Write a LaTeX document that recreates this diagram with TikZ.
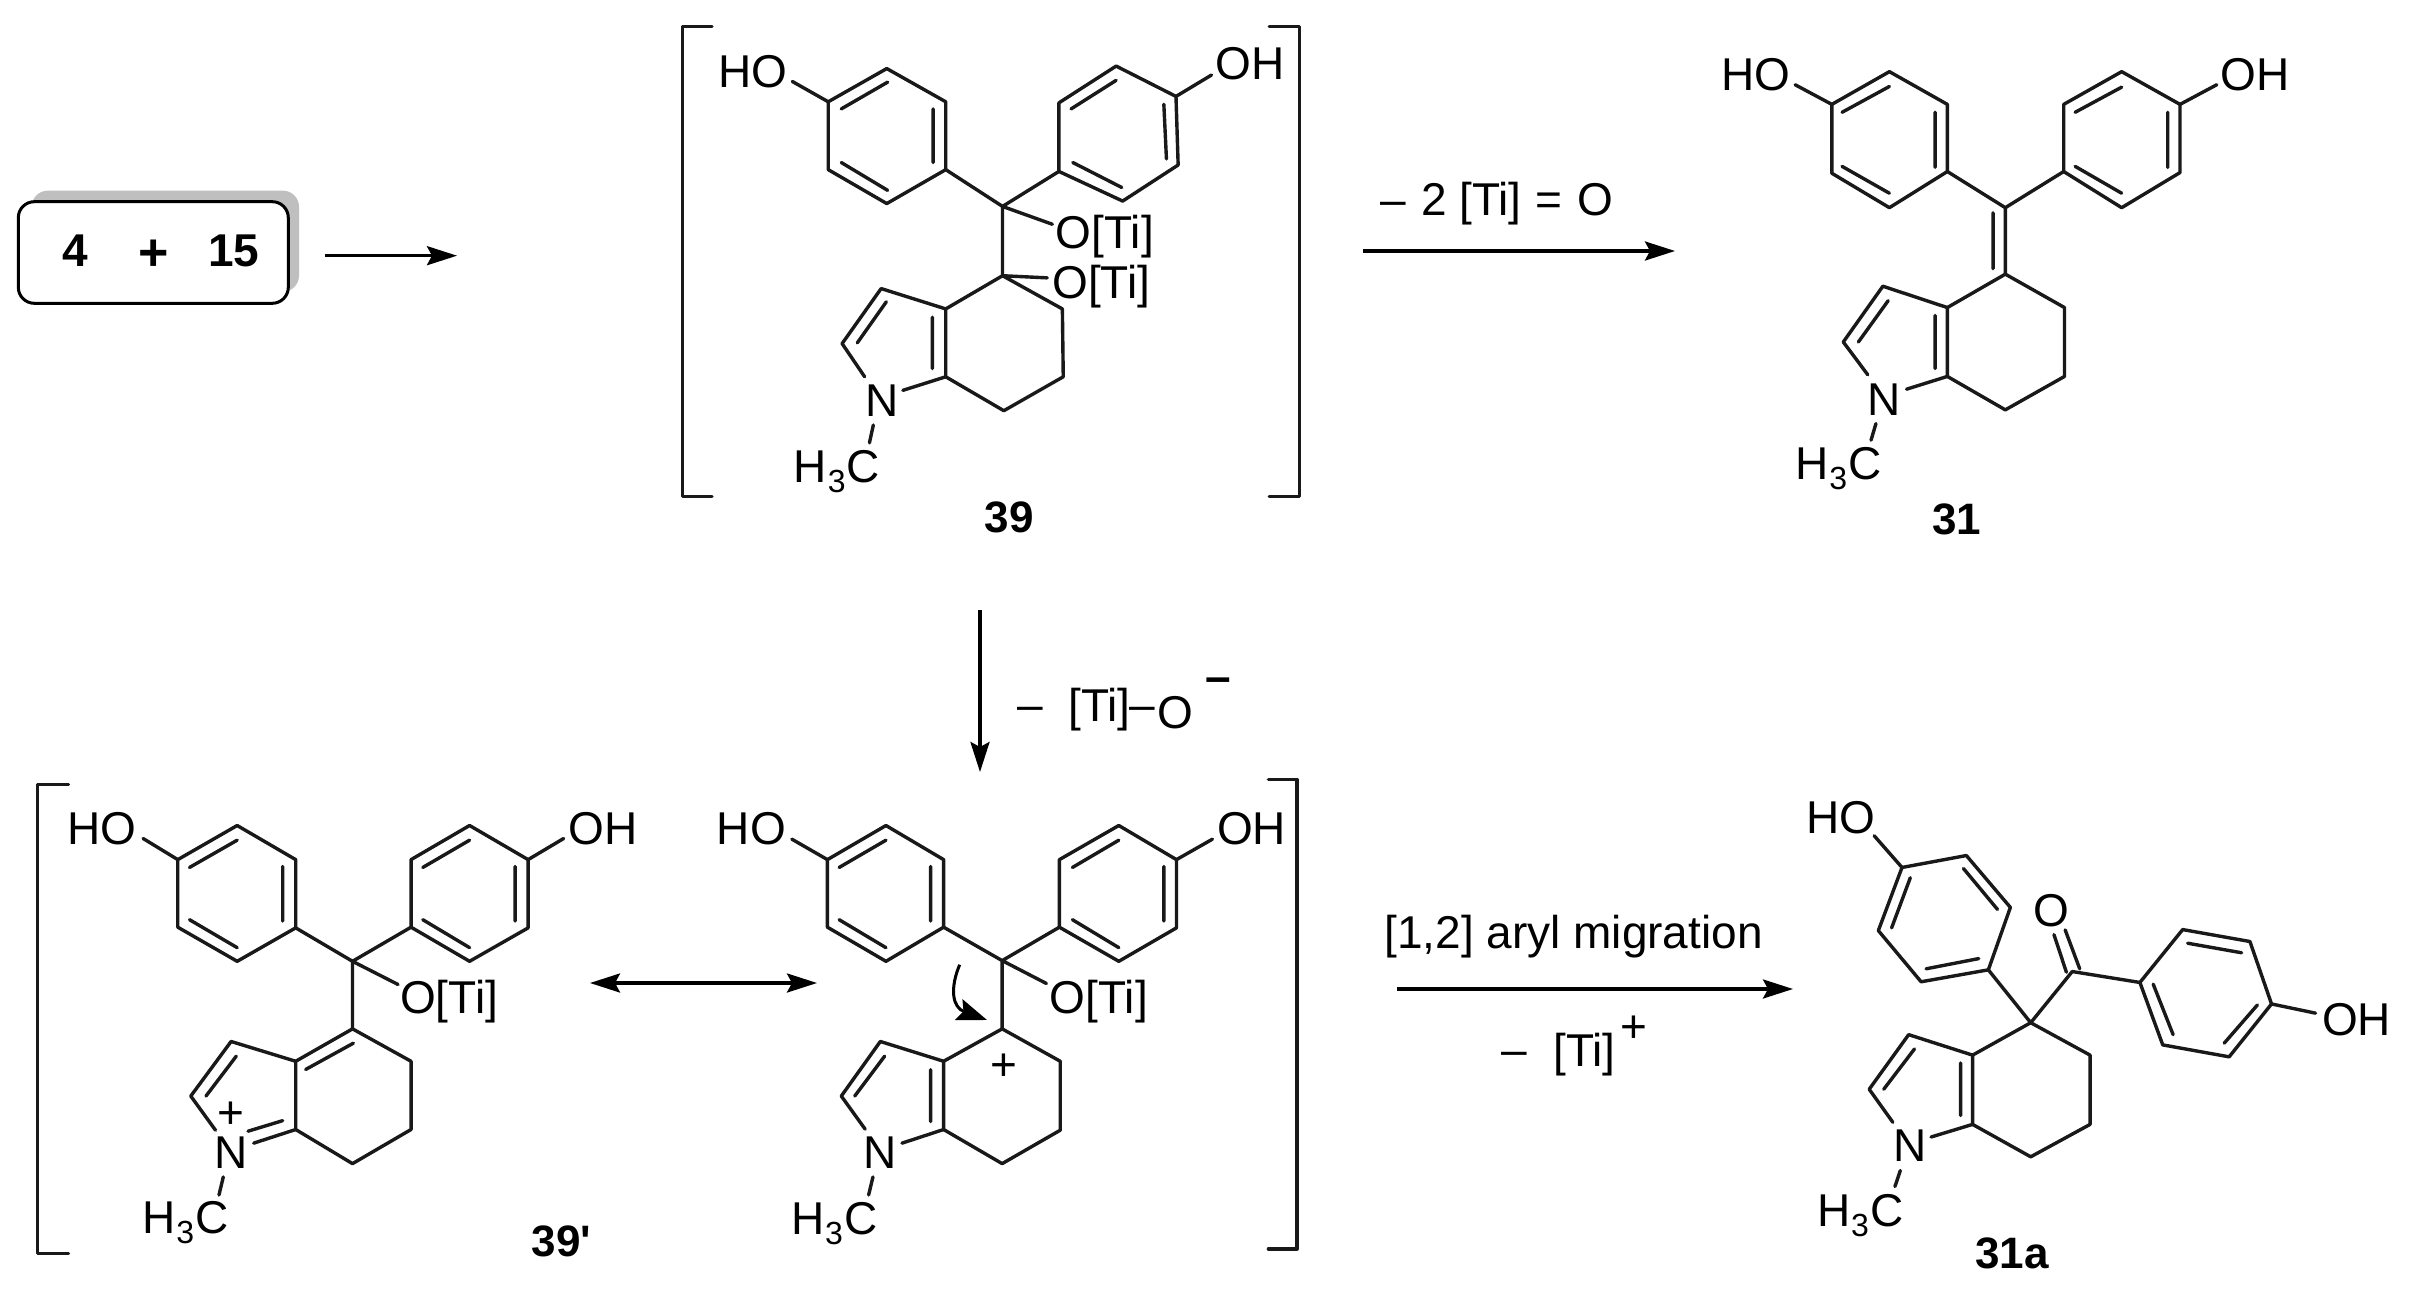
\documentclass[tikz,border=0pt]{standalone}
\usepackage{fontspec}
\setmainfont{Liberation Sans}
\newfontfamily\plainsans{Liberation Sans}
\usetikzlibrary{arrows.meta}
\newcommand{\HtC}{H\kern0.3pt\raisebox{-5pt}{\fontsize{16}{16}\selectfont 3}\kern0.6pt C}
\tikzset{
  bond/.style={line width=1.7pt,line cap=round,line join=round,draw=black!90},
  rxn/.style={line width=1.7pt,draw=black,-{Stealth[length=15pt,width=9.5pt,inset=2.5pt]}},
  rxnboth/.style={line width=1.7pt,draw=black,{Stealth[length=15pt,width=9.5pt,inset=2.5pt]}-{Stealth[length=15pt,width=9.5pt,inset=2.5pt]}},
  atomlab/.style={inner sep=0pt,anchor=base west,font=\fontsize{23}{23}\selectfont},
  cmpd/.style={inner sep=0pt,anchor=base west,font=\fontsize{22}{22}\selectfont\bfseries},
  chargelab/.style={inner sep=0pt,anchor=center,font=\fontsize{23}{23}\selectfont},
}
\begin{document}
\begin{tikzpicture}[x=0.5pt,y=-0.5pt]
\useasboundingbox (0,0) rectangle (2411,1295);
\fill[white] (0,0) rectangle (2411,1295);

% start box
\fill[black!25,rounded corners=8pt] (31.7,190.7) rectangle (299,291.7);
\node[draw=black,fill=white,line width=1.5pt,rounded corners=8pt,minimum width=135pt,minimum height=50.8pt,inner sep=0pt] (box) at (153.3,252.5) {};
\node[atomlab,font=\fontsize{23}{23}\selectfont\bfseries] (n4) at (62,266.7) {4};
\node[chargelab,font=\fontsize{26}{26}\selectfont\bfseries] (plusbox) at (154,255) {+};
\node[atomlab,font=\fontsize{23}{23}\selectfont\bfseries] (n15) at (208,266.7) {15};
\coordinate (s1) at (325,255.7); \coordinate (e1) at (457,255.7);
\draw[rxn] (s1) -- (e1);

% arrow to 31
\coordinate (s2) at (1363,251); \coordinate (e2) at (1675,251);
\draw[rxn] (s2) -- (e2);
\node[atomlab] (t2a) at (1380,215.5) {–};
\node[atomlab] (t2b) at (1421,215.5) {2};
\node[atomlab] (t2c) at (1459,215.5) {[Ti]};
\node[atomlab] (t2d) at (1535,215.5) {=};
\node[atomlab] (t2e) at (1577,215.5) {O};

% vertical arrow
\coordinate (s3) at (980,610); \coordinate (e3) at (980,772);
\draw[rxn] (s3) -- (e3);
\node[atomlab] (t3a) at (1017,720) {–};
\node[atomlab] (t3b) at (1068,721.7) {[Ti]};
\node[atomlab] (t3c) at (1129,720) {–};
\node[atomlab] (t3d) at (1157,728) {O};
\node[atomlab,font=\fontsize{23}{23}\selectfont\bfseries] (t3e) at (1205,692) {–};

% resonance arrow
\coordinate (s4) at (590,983); \coordinate (e4) at (817,983);
\draw[rxnboth] (s4) -- (e4);

% arrow to 31a
\coordinate (s5) at (1397,989); \coordinate (e5) at (1793,989);
\draw[rxn] (s5) -- (e5);
\node[atomlab] (t5a) at (1384,948) {[1,2] aryl migration};
\node[atomlab] (t5b) at (1501,1065) {–};
\node[atomlab] (t5c) at (1553,1066) {[Ti]};
\node[chargelab] (t5d) at (1634,1029) {+};

% ---------- 39
\begin{scope}[shift={(660,0)},x=0.2168pt,y=-0.17857pt]
\path (388,285) coordinate (Aa1) (523,192) coordinate (Aa2) (659,285) coordinate (Aa3) (659,475) coordinate (Aa4) (523,570) coordinate (Aa5) (388,475) coordinate (Aa6)
 (920,288) coordinate (Ab1) (1052,185) coordinate (Ab2) (1190,270) coordinate (Ab3) (1195,462) coordinate (Ab4) (1067,563) coordinate (Ab5) (920,480) coordinate (Ab6)
 (790,578) coordinate (Ac1) (790,772) coordinate (Ac2) (928,865) coordinate (Ar1) (930,1055) coordinate (Ar2) (793,1150) coordinate (Ar3) (659,1055) coordinate (Ar4) (659,865) coordinate (Ar5)
 (510,808) coordinate (Ap1) (420,962) coordinate (Ap2) (472,1055) coordinate (Ap3) (560,1093) coordinate (Ap4)
 (305,228) coordinate (Ao1) (1272,210) coordinate (Ao2) (905,628) coordinate (Ao3) (893,778) coordinate (Ao4) (492,1190) coordinate (Am1) (483,1240) coordinate (Am2);
\draw[bond] (Aa1)--(Aa2)--(Aa3)--(Aa4)--(Aa5)--(Aa6)--cycle;
\draw[bond] (Ab1)--(Ab2)--(Ab3)--(Ab4)--(Ab5)--(Ab6)--cycle;
\draw[bond] (418,305)--(525,230) (630,305)--(630,455) (418,455)--(525,533);
\draw[bond] (948,305)--(1052,225) (1162,292)--(1168,445) (952,455)--(1065,525);
\draw[bond] (Aa1)--(Ao1) (Ab3)--(Ao2) (Aa4)--(Ac1)--(Ab6) (Ac1)--(Ao3) (Ac1)--(Ac2)--(Ao4);
\draw[bond] (Ac2)--(Ar1)--(Ar2)--(Ar3)--(Ar4)--(Ar5)--(Ac2);
\draw[bond] (Ar5)--(Ap1)--(Ap2)--(Ap3) (Ar4)--(Ap4) (628,888)--(628,1032) (522,845)--(455,960) (Am1)--(Am2);
\node[atomlab] (Ahol) at (133,245) {HO};
\node[atomlab] (Aohr) at (1281,222) {OH};
\node[atomlab] (Ati1) at (912,695) {O[Ti]};
\node[atomlab] (Ati2) at (904,835) {O[Ti]};
\node[atomlab] (An) at (474,1165) {N};
\node[atomlab] (Ame) at (308,1350) {\HtC};
\node[cmpd] (Alab) at (748,1490) {39};
\draw[bond] (120,75)--(52,75)--(52,1390)--(120,1390);
\draw[bond] (1405,75)--(1475,75)--(1475,1390)--(1405,1390);
\end{scope}

% ---------- 31
\begin{scope}[shift={(1680,20)},x=0.20408pt,y=-0.17219pt]
\path (372,245) coordinate (Ba1) (513,150) coordinate (Ba2) (655,245) coordinate (Ba3) (655,440) coordinate (Ba4) (513,545) coordinate (Ba5) (372,445) coordinate (Ba6)
 (940,245) coordinate (Bb1) (1082,150) coordinate (Bb2) (1225,245) coordinate (Bb3) (1225,443) coordinate (Bb4) (1082,545) coordinate (Bb5) (940,440) coordinate (Bb6)
 (797,545) coordinate (Bc1) (797,738) coordinate (Bc2) (942,835) coordinate (Br1) (942,1035) coordinate (Br2) (797,1132) coordinate (Br3) (655,1035) coordinate (Br4) (655,835) coordinate (Br5)
 (497,773) coordinate (Bp1) (400,935) coordinate (Bp2) (460,1030) coordinate (Bp3) (555,1072) coordinate (Bp4)
 (282,188) coordinate (Bo1) (1315,188) coordinate (Bo2) (480,1172) coordinate (Bm1) (468,1220) coordinate (Bm2);
\draw[bond] (Ba1)--(Ba2)--(Ba3)--(Ba4)--(Ba5)--(Ba6)--cycle;
\draw[bond] (Bb1)--(Bb2)--(Bb3)--(Bb4)--(Bb5)--(Bb6)--cycle;
\draw[bond] (397,268)--(513,193) (625,268)--(625,428) (397,425)--(513,503);
\draw[bond] (968,268)--(1082,195) (1195,268)--(1195,428) (968,425)--(1082,503);
\draw[bond] (Ba1)--(Bo1) (Bb3)--(Bo2) (Ba4)--(Bc1)--(Bb6) (Bc1)--(Bc2) (767,560)--(767,722);
\draw[bond] (Bc2)--(Br1)--(Br2)--(Br3)--(Br4)--(Br5)--(Bc2);
\draw[bond] (Br5)--(Bp1)--(Bp2)--(Bp3) (Br4)--(Bp4) (625,858)--(625,1012) (510,815)--(437,935) (Bm1)--(Bm2);
\node[atomlab] (Bhol) at (100,205) {HO};
\node[atomlab] (Bohr) at (1324,205) {OH};
\node[atomlab] (Bn) at (459,1148) {N};
\node[atomlab] (Bme) at (282,1335) {\HtC};
\node[cmpd] (Blab) at (617,1493) {31};
\end{scope}

% ---------- 39'
\begin{scope}[shift={(0,760)},x=0.2168pt,y=-0.1706pt]
\path (410,292) coordinate (Ca1) (547,192) coordinate (Ca2) (682,292) coordinate (Ca3) (682,492) coordinate (Ca4) (547,590) coordinate (Ca5) (410,490) coordinate (Ca6)
 (948,292) coordinate (Cb1) (1083,192) coordinate (Cb2) (1218,292) coordinate (Cb3) (1218,492) coordinate (Cb4) (1083,590) coordinate (Cb5) (948,490) coordinate (Cb6)
 (813,590) coordinate (Cc1) (813,788) coordinate (Cc2) (948,883) coordinate (Cr1) (948,1083) coordinate (Cr2) (813,1183) coordinate (Cr3) (682,1083) coordinate (Cr4) (682,883) coordinate (Cr5)
 (533,825) coordinate (Cp1) (440,985) coordinate (Cp2) (497,1085) coordinate (Cp3) (585,1123) coordinate (Cp4)
 (330,230) coordinate (Co1) (1300,230) coordinate (Co2) (918,658) coordinate (Co3) (515,1222) coordinate (Cm1) (505,1275) coordinate (Cm2);
\draw[bond] (Ca1)--(Ca2)--(Ca3)--(Ca4)--(Ca5)--(Ca6)--cycle;
\draw[bond] (Cb1)--(Cb2)--(Cb3)--(Cb4)--(Cb5)--(Cb6)--cycle;
\draw[bond] (437,315)--(547,235) (652,312)--(652,472) (437,468)--(547,550);
\draw[bond] (975,315)--(1083,235) (1188,312)--(1188,472) (975,468)--(1083,550);
\draw[bond] (Ca1)--(Co1) (Cb3)--(Co2) (Ca4)--(Cc1)--(Cb6) (Cc1)--(Co3) (Cc1)--(Cc2);
\draw[bond] (Cc2)--(Cr1)--(Cr2)--(Cr3)--(Cr4)--(Cr5)--(Cc2);
\draw[bond] (Cr5)--(Cp1)--(Cp2)--(Cp3) (Cr4)--(Cp4) (705,907)--(815,830) (572,1088)--(652,1057) (545,868)--(475,985) (Cm1)--(Cm2);
\node[atomlab] (Chol) at (155,248) {HO};
\node[atomlab] (Cohr) at (1310,248) {OH};
\node[atomlab] (Cti) at (922,742) {O[Ti]};
\node[atomlab] (Cn) at (494,1197) {N};
\node[chargelab] (Cplus) at (533,1040) {+};
\node[atomlab] (Cme) at (328,1388) {\HtC};
\node[cmpd,font=\fontsize{22}{22}\selectfont\plainsans\bfseries] (Clab) at (1225,1455) {39'};
\draw[bond] (158,72)--(87,72)--(87,1447)--(158,1447);
\end{scope}

% ---------- cation
\begin{scope}[shift={(680,760)},x=0.2168pt,y=-0.1706pt]
\path (340,292) coordinate (Da1) (475,192) coordinate (Da2) (608,292) coordinate (Da3) (608,490) coordinate (Da4) (475,590) coordinate (Da5) (340,490) coordinate (Da6)
 (875,292) coordinate (Db1) (1012,192) coordinate (Db2) (1145,292) coordinate (Db3) (1145,492) coordinate (Db4) (1012,590) coordinate (Db5) (875,490) coordinate (Db6)
 (743,588) coordinate (Dc1) (743,788) coordinate (Dc2) (877,883) coordinate (Dr1) (877,1085) coordinate (Dr2) (743,1183) coordinate (Dr3) (608,1083) coordinate (Dr4) (608,883) coordinate (Dr5)
 (462,825) coordinate (Dp1) (372,985) coordinate (Dp2) (427,1082) coordinate (Dp3) (512,1123) coordinate (Dp4)
 (258,232) coordinate (Do1) (1228,232) coordinate (Do2) (845,655) coordinate (Do3) (445,1222) coordinate (Dm1) (435,1275) coordinate (Dm2)
 (645,600) coordinate (Dcs) (708,762) coordinate (Dce);
\draw[bond] (Da1)--(Da2)--(Da3)--(Da4)--(Da5)--(Da6)--cycle;
\draw[bond] (Db1)--(Db2)--(Db3)--(Db4)--(Db5)--(Db6)--cycle;
\draw[bond] (367,315)--(475,235) (578,312)--(578,472) (367,468)--(475,550);
\draw[bond] (905,315)--(1012,235) (1116,312)--(1116,472) (905,468)--(1012,550);
\draw[bond] (Da1)--(Do1) (Db3)--(Do2) (Da4)--(Dc1)--(Db6) (Dc1)--(Do3) (Dc1)--(Dc2);
\draw[bond] (Dc2)--(Dr1)--(Dr2)--(Dr3)--(Dr4)--(Dr5)--(Dc2);
\draw[bond] (Dr5)--(Dp1)--(Dp2)--(Dp3) (Dr4)--(Dp4) (578,908)--(578,1060) (472,868)--(403,985) (Dm1)--(Dm2);
\draw[line width=1.5pt,-{Stealth[length=15pt,width=11pt,inset=2.5pt]}] (Dcs) .. controls (622,670) and (628,725) .. (Dce);
\node[atomlab] (Dhol) at (84,248) {HO};
\node[atomlab] (Dohr) at (1238,248) {OH};
\node[atomlab] (Dti) at (852,742) {O[Ti]};
\node[atomlab] (Dn) at (422,1197) {N};
\node[chargelab] (Dplus) at (748,900) {+};
\node[atomlab] (Dme) at (256,1390) {\HtC};
\draw[bond] (1357,57)--(1423,57)--(1423,1433)--(1357,1433);
\end{scope}

% ---------- 31a
\begin{scope}[shift={(1760,760)},x=0.20759pt,y=-0.1706pt]
\path (342,315) coordinate (Ea1) (497,280) coordinate (Ea2) (603,432) coordinate (Ea3) (550,615) coordinate (Ea4) (388,650) coordinate (Ea5) (285,500) coordinate (Ea6)
 (915,652) coordinate (Eb1) (1018,497) coordinate (Eb2) (1180,532) coordinate (Eb3) (1232,715) coordinate (Eb4) (1130,870) coordinate (Eb5) (970,835) coordinate (Eb6)
 (652,770) coordinate (Ec1) (752,620) coordinate (Eco) (795,865) coordinate (Er1) (795,1068) coordinate (Er2) (652,1163) coordinate (Er3) (512,1068) coordinate (Er4) (512,865) coordinate (Er5)
 (358,805) coordinate (Ep1) (263,965) coordinate (Ep2) (320,1062) coordinate (Ep3) (412,1105) coordinate (Ep4)
 (275,222) coordinate (Eo1) (1338,742) coordinate (Eo2) (338,1203) coordinate (Em1) (325,1250) coordinate (Em2);
\draw[bond] (Ea1)--(Ea2)--(Ea3)--(Ea4)--(Ea5)--(Ea6)--cycle;
\draw[bond] (Eb1)--(Eb2)--(Eb3)--(Eb4)--(Eb5)--(Eb6)--cycle;
\draw[bond] (362,345)--(317,492) (490,318)--(572,438) (527,582)--(400,612);
\draw[bond] (1030,537)--(1160,565) (1198,718)--(1118,830) (995,805)--(947,657);
\draw[bond] (Ea1)--(Eo1) (Eb4)--(Eo2) (Ea4)--(Ec1)--(Eco)--(Eb1) (770,612)--(735,498) (738,622)--(708,512);
\draw[bond] (Ec1)--(Er1)--(Er2)--(Er3)--(Er4)--(Er5)--(Ec1);
\draw[bond] (Er5)--(Ep1)--(Ep2)--(Ep3) (Er4)--(Ep4) (483,888)--(483,1042) (372,847)--(298,965) (Em1)--(Em2);
\node[atomlab] (Ehol) at (110,215) {HO};
\node[atomlab] (Eohr) at (1353,808) {OH};
\node[atomlab] (Eoxo) at (657,487) {O};
\node[atomlab] (En) at (320,1178) {N};
\node[atomlab] (Eme) at (137,1368) {\HtC};
\node[cmpd] (Elab) at (517,1490) {31a};
\end{scope}
\end{tikzpicture}
\end{document}
